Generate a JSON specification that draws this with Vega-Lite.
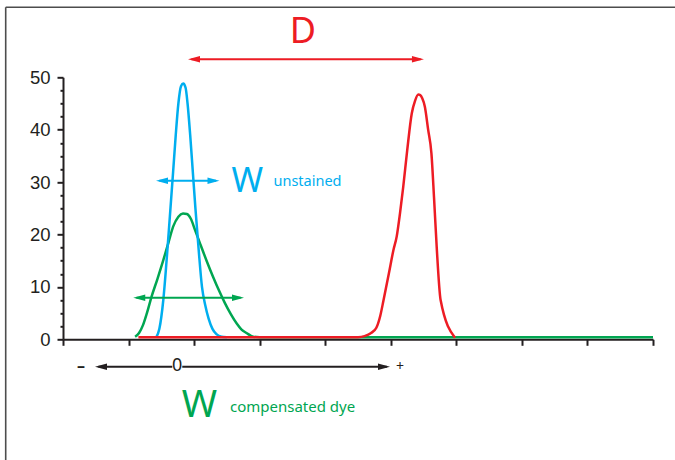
{
  "$schema": "https://vega.github.io/schema/vega-lite/v6.json",
  "width": 590,
  "height": 262,
  "autosize": {"type": "none"},
  "padding": {"left": 63, "top": 77.3, "right": 22, "bottom": 120.7},
  "background": "white",
  "config": {
    "view": {"stroke": null},
    "axis": {
      "domainColor": "#231f20", "domainWidth": 2, "tickColor": "#231f20", "tickWidth": 2,
      "labelColor": "#231f20", "labelFont": "Liberation Sans", "labelFontSize": 18.5, "grid": false
    },
    "text": {"font": "Noto Sans"}
  },
  "datasets": {
    "curves": [
      {"c": "compensated", "x": 1.1, "y": 0.5}, {"c": "compensated", "x": 1.16, "y": 1.2}, {"c": "compensated", "x": 1.22, "y": 2.7},
      {"c": "compensated", "x": 1.28, "y": 5}, {"c": "compensated", "x": 1.35, "y": 8.1}, {"c": "compensated", "x": 1.44, "y": 11.5},
      {"c": "compensated", "x": 1.53, "y": 15.1}, {"c": "compensated", "x": 1.61, "y": 18.5}, {"c": "compensated", "x": 1.68, "y": 21.5},
      {"c": "compensated", "x": 1.76, "y": 23.4}, {"c": "compensated", "x": 1.83, "y": 24}, {"c": "compensated", "x": 1.89, "y": 23.9},
      {"c": "compensated", "x": 1.95, "y": 23.0}, {"c": "compensated", "x": 2.01, "y": 21}, {"c": "compensated", "x": 2.09, "y": 18.3},
      {"c": "compensated", "x": 2.19, "y": 15}, {"c": "compensated", "x": 2.29, "y": 11.9}, {"c": "compensated", "x": 2.38, "y": 9.3},
      {"c": "compensated", "x": 2.47, "y": 6.9}, {"c": "compensated", "x": 2.56, "y": 4.8}, {"c": "compensated", "x": 2.65, "y": 3},
      {"c": "compensated", "x": 2.72, "y": 1.9}, {"c": "compensated", "x": 2.8, "y": 1.2}, {"c": "compensated", "x": 2.9, "y": 0.5},
      {"c": "compensated", "x": 3.0, "y": 0.4}, {"c": "compensated", "x": 9.0, "y": 0.4},
      {"c": "unstained", "x": 1.42, "y": 0.3}, {"c": "unstained", "x": 1.47, "y": 2}, {"c": "unstained", "x": 1.53, "y": 7.5},
      {"c": "unstained", "x": 1.58, "y": 15}, {"c": "unstained", "x": 1.63, "y": 23.4}, {"c": "unstained", "x": 1.68, "y": 32},
      {"c": "unstained", "x": 1.72, "y": 39}, {"c": "unstained", "x": 1.76, "y": 45}, {"c": "unstained", "x": 1.8, "y": 48.3},
      {"c": "unstained", "x": 1.835, "y": 48.8}, {"c": "unstained", "x": 1.87, "y": 48}, {"c": "unstained", "x": 1.9, "y": 45},
      {"c": "unstained", "x": 1.94, "y": 39}, {"c": "unstained", "x": 1.98, "y": 32}, {"c": "unstained", "x": 2.02, "y": 25},
      {"c": "unstained", "x": 2.07, "y": 17}, {"c": "unstained", "x": 2.12, "y": 10}, {"c": "unstained", "x": 2.17, "y": 6.5},
      {"c": "unstained", "x": 2.22, "y": 4}, {"c": "unstained", "x": 2.28, "y": 2}, {"c": "unstained", "x": 2.34, "y": 1},
      {"c": "unstained", "x": 2.42, "y": 0.5}, {"c": "unstained", "x": 2.5, "y": 0.4},
      {"c": "stained", "x": 1.15, "y": 0.4}, {"c": "stained", "x": 4.5, "y": 0.4}, {"c": "stained", "x": 4.6, "y": 0.6},
      {"c": "stained", "x": 4.7, "y": 1.2}, {"c": "stained", "x": 4.78, "y": 2.2}, {"c": "stained", "x": 4.84, "y": 4.5},
      {"c": "stained", "x": 4.89, "y": 7.5}, {"c": "stained", "x": 4.97, "y": 12.5}, {"c": "stained", "x": 5.04, "y": 17},
      {"c": "stained", "x": 5.09, "y": 19.6}, {"c": "stained", "x": 5.14, "y": 24}, {"c": "stained", "x": 5.19, "y": 29.1},
      {"c": "stained", "x": 5.25, "y": 36}, {"c": "stained", "x": 5.32, "y": 43.1}, {"c": "stained", "x": 5.37, "y": 45.5},
      {"c": "stained", "x": 5.42, "y": 46.7}, {"c": "stained", "x": 5.45, "y": 46.6}, {"c": "stained", "x": 5.48, "y": 46},
      {"c": "stained", "x": 5.52, "y": 44.4}, {"c": "stained", "x": 5.57, "y": 40}, {"c": "stained", "x": 5.62, "y": 35.5},
      {"c": "stained", "x": 5.66, "y": 27}, {"c": "stained", "x": 5.7, "y": 17.7}, {"c": "stained", "x": 5.76, "y": 7.5},
      {"c": "stained", "x": 5.98, "y": 0.3}
    ],
    "arrows": [
      {"c": "stained", "x": 1.96, "x2": 5.455, "y": 53.44},
      {"c": "unstained", "x": 1.47, "x2": 2.335, "y": 30.27},
      {"c": "compensated", "x": 1.12, "x2": 2.71, "y": 7.94},
      {"c": "scale", "x": 0.54, "x2": 4.94, "y": -5.23}
    ],
    "heads": [
      {"c": "stained", "d": "left", "x": 1.907, "y": 53.44},
      {"c": "stained", "d": "right", "x": 5.506, "y": 53.44},
      {"c": "unstained", "d": "left", "x": 1.419, "y": 30.27},
      {"c": "unstained", "d": "right", "x": 2.387, "y": 30.27},
      {"c": "compensated", "d": "left", "x": 1.072, "y": 7.94},
      {"c": "compensated", "d": "right", "x": 2.761, "y": 7.94},
      {"c": "scale", "d": "left", "x": 0.488, "y": -5.23},
      {"c": "scale", "d": "right", "x": 4.988, "y": -5.23}
    ]
  },
  "encoding": {
    "x": {
      "field": "x", "type": "quantitative",
      "scale": {"domain": [0, 9], "nice": false, "zero": false},
      "axis": {"values": [0, 1, 2, 3, 4, 5, 6, 7, 8, 9], "labels": false, "tickSize": 6, "title": null}
    },
    "y": {
      "field": "y", "type": "quantitative",
      "scale": {"domain": [0, 50], "nice": false},
      "axis": {
        "values": [0, 2.5, 5, 7.5, 10, 12.5, 15, 17.5, 20, 22.5, 25, 27.5, 30, 32.5, 35, 37.5, 40, 42.5, 45, 47.5, 50],
        "tickSize": {"condition": {"test": "datum.value % 10 === 0", "value": 6}, "value": 3},
        "labelExpr": "datum.value % 10 === 0 ? datum.label : ''",
        "labelPadding": 7,
        "title": null
      }
    }
  },
  "layer": [
    {
      "data": {"values": [
        {"x": -0.874, "x2": 9.6, "y": 63.36, "y2": 63.36},
        {"x": -0.874, "x2": -0.874, "y": 63.36, "y2": -30}
      ]},
      "mark": {"type": "rule", "color": "#4d4d4d", "strokeWidth": 1.6, "clip": false},
      "encoding": {"x2": {"field": "x2"}, "y2": {"field": "y2"}}
    },
    {
      "data": {"name": "curves"},
      "transform": [{"filter": "datum.c === 'compensated'"}],
      "mark": {"type": "line", "strokeWidth": 2.5, "interpolate": "monotone", "clip": false},
      "encoding": {"color": {"field": "c", "type": "nominal", "legend": null,
        "scale": {"domain": ["unstained", "compensated", "stained", "scale"], "range": ["#00aeef", "#00a651", "#ed1c24", "#231f20"]}}}
    },
    {
      "data": {"name": "curves"},
      "transform": [{"filter": "datum.c === 'unstained'"}],
      "mark": {"type": "line", "strokeWidth": 2.5, "interpolate": "monotone", "clip": false},
      "encoding": {"color": {"field": "c", "type": "nominal", "legend": null}}
    },
    {
      "data": {"name": "curves"},
      "transform": [{"filter": "datum.c === 'stained'"}],
      "mark": {"type": "line", "strokeWidth": 2.5, "interpolate": "monotone", "clip": false},
      "encoding": {"color": {"field": "c", "type": "nominal", "legend": null}}
    },
    {
      "data": {"name": "arrows"},
      "mark": {"type": "rule", "strokeWidth": 2, "clip": false},
      "encoding": {"x2": {"field": "x2"}, "color": {"field": "c", "type": "nominal", "legend": null}}
    },
    {
      "data": {"values": [{"x": 1.743, "y": -5.15}]},
      "mark": {"type": "point", "shape": "square", "size": 100, "filled": true, "color": "white", "opacity": 1, "clip": false}
    },
    {
      "data": {"name": "heads"},
      "mark": {"type": "point", "filled": true, "opacity": 1, "size": 144, "strokeWidth": 0, "clip": false},
      "encoding": {
        "shape": {"field": "d", "type": "nominal", "legend": null,
          "scale": {"domain": ["left", "right"], "range": ["M0,0L2,-0.55L2,0.55Z", "M0,0L-2,-0.55L-2,0.55Z"]}},
        "color": {"field": "c", "type": "nominal", "legend": null}
      }
    },
    {
      "data": {"values": [{"t": "D", "c": "stained", "x": 3.661, "y": 56.49}]},
      "mark": {"type": "text", "fontSize": 36, "align": "center", "baseline": "alphabetic", "clip": false},
      "encoding": {"text": {"field": "t"}, "color": {"field": "c", "type": "nominal", "legend": null}}
    },
    {
      "data": {"values": [{"t": "W", "c": "unstained", "x": 2.57, "y": 28.17}]},
      "mark": {"type": "text", "fontSize": 34, "align": "left", "baseline": "alphabetic", "clip": false},
      "encoding": {"text": {"field": "t"}, "color": {"field": "c", "type": "nominal", "legend": null}}
    },
    {
      "data": {"values": [{"t": "unstained", "c": "unstained", "x": 3.211, "y": 29.31}]},
      "mark": {"type": "text", "fontSize": 14.5, "align": "left", "baseline": "alphabetic", "clip": false},
      "encoding": {"text": {"field": "t"}, "color": {"field": "c", "type": "nominal", "legend": null}}
    },
    {
      "data": {"values": [{"t": "W", "c": "compensated", "x": 1.81, "y": -14.89}]},
      "mark": {"type": "text", "fontSize": 38, "align": "left", "baseline": "alphabetic", "clip": false},
      "encoding": {"text": {"field": "t"}, "color": {"field": "c", "type": "nominal", "legend": null}}
    },
    {
      "data": {"values": [{"t": "compensated dye", "c": "compensated", "x": 2.547, "y": -13.82}]},
      "mark": {"type": "text", "fontSize": 15, "align": "left", "baseline": "alphabetic", "clip": false},
      "encoding": {"text": {"field": "t"}, "color": {"field": "c", "type": "nominal", "legend": null}}
    },
    {
      "data": {"values": [{"t": "–", "c": "scale", "x": 0.275, "y": -5.1}]},
      "mark": {"type": "text", "fontSize": 16, "fontWeight": "bold", "align": "center", "baseline": "middle", "clip": false},
      "encoding": {"text": {"field": "t"}, "color": {"field": "c", "type": "nominal", "legend": null}}
    },
    {
      "data": {"values": [{"t": "0", "c": "scale", "x": 1.743, "y": -5.15}]},
      "mark": {"type": "text", "fontSize": 18, "align": "center", "baseline": "middle", "clip": false},
      "encoding": {"text": {"field": "t"}, "color": {"field": "c", "type": "nominal", "legend": null}}
    },
    {
      "data": {"values": [{"t": "+", "c": "scale", "x": 5.14, "y": -5.2}]},
      "mark": {"type": "text", "fontSize": 14, "align": "center", "baseline": "middle", "clip": false},
      "encoding": {"text": {"field": "t"}, "color": {"field": "c", "type": "nominal", "legend": null}}
    }
  ]
}
